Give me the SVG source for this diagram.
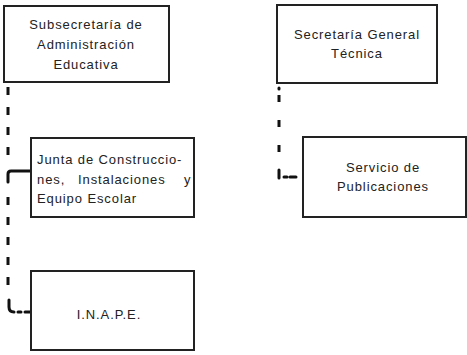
<svg xmlns="http://www.w3.org/2000/svg" width="467" height="355" viewBox="0 0 467 355">
<style>
.box{fill:#fff;stroke:#222;stroke-width:2}
text{font-family:"Liberation Sans",Arial,sans-serif;font-size:13px;fill:#222;letter-spacing:0.9px}
.c{text-anchor:middle}
.dash{fill:none;stroke:#111;stroke-width:3;stroke-dasharray:8 12}
.solid{fill:none;stroke:#111;stroke-width:3;stroke-linecap:round}
</style>
<rect width="467" height="355" fill="#fff"/>
<g id="connectors">
<path class="dash" d="M8 87 V164"/>
<path class="solid" d="M8 182 V174 Q8 171 11 171 H31"/>
<path class="dash" d="M8 197 V294"/>
<path class="solid" d="M9 300 V307 Q9 312 14 312"/>
<path class="solid" d="M18 312 H21 M25 312 H31"/>
<path class="solid" d="M279 88 V89"/>
<path class="dash" d="M279 95 V160" style="stroke-dasharray:7 18"/>
<path class="solid" d="M279 170 V178"/>
<path class="solid" d="M284 177 H287 M290 177 H296"/>
</g>
<g id="n1">
<rect class="box" x="4" y="6" width="165" height="76"/>
<text class="c" x="86" y="29">Subsecretaría de</text>
<text class="c" x="86" y="49">Administración</text>
<text class="c" x="86" y="69">Educativa</text>
</g>
<g id="n2">
<rect class="box" x="277" y="5" width="160" height="78"/>
<text class="c" x="357" y="39">Secretaría General</text>
<text class="c" x="357" y="58">Técnica</text>
</g>
<g id="n3">
<rect class="box" x="31" y="138" width="163" height="79"/>
<text x="37" y="164">Junta de Construccio-</text>
<text x="37" y="184">nes,</text>
<text x="78" y="184">Instalaciones</text>
<text x="184" y="184">y</text>
<text x="37" y="203">Equipo Escolar</text>
</g>
<g id="n4">
<rect class="box" x="303" y="137" width="163" height="80"/>
<text class="c" x="383" y="172">Servicio de</text>
<text class="c" x="383" y="191">Publicaciones</text>
</g>
<g id="n5">
<rect class="box" x="31" y="271" width="163" height="79"/>
<text class="c" x="109" y="319">I.N.A.P.E.</text>
</g>
</svg>
